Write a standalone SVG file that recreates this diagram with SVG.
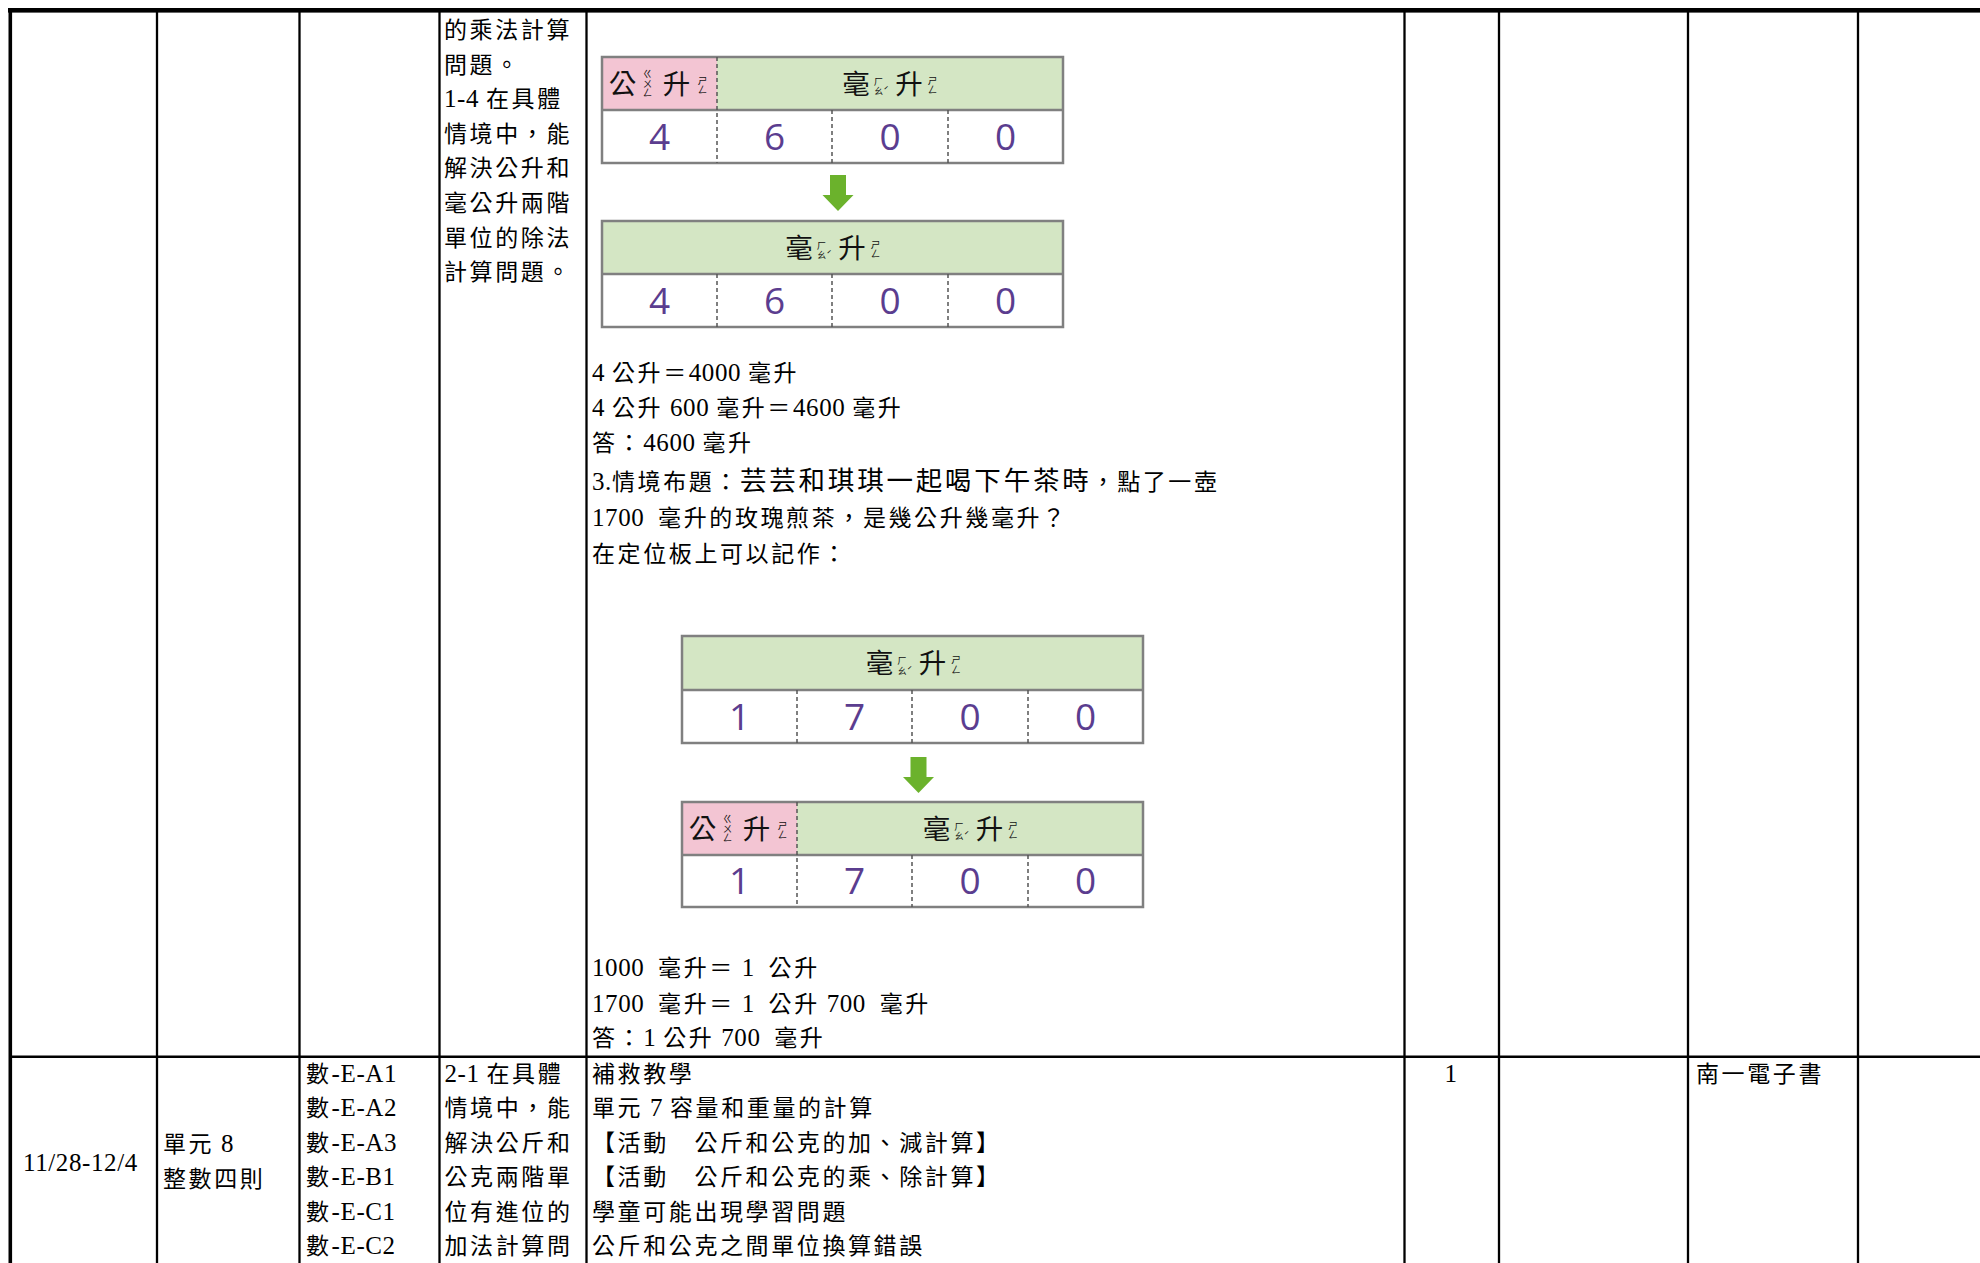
<svg xmlns="http://www.w3.org/2000/svg" width="1980" height="1263" viewBox="0 0 1980 1263">
<style>
.t{font-family:"Liberation Serif","Noto Sans CJK TC",serif;font-size:23px;letter-spacing:2.6px;fill:#000}
.l{font-size:25px;letter-spacing:0.6px}
.big{font-size:26.5px;letter-spacing:2.8px}
.h{font-family:"Noto Sans CJK TC",sans-serif;font-size:27.5px;text-anchor:middle;fill:#111}
.tone{font-size:9.5px}
.v{font-family:"Noto Sans CJK TC",sans-serif;font-size:9.5px;fill:#111;writing-mode:vertical-rl;text-anchor:middle}
.n{font-family:"Open Sans","Noto Sans",sans-serif;font-size:37px;fill:#5b3d8f;text-anchor:middle}
.grid{stroke:#000;stroke-width:2.3;fill:none}
.box{stroke:#808080;stroke-width:2.5;fill:none}
.dash{stroke:#555;stroke-width:1.5;stroke-dasharray:4 3;fill:none}
.pink{fill:#f3c5d3}
.green{fill:#d4e6c4}
.arrow{fill:#6bb22c}
</style>
<defs>
<path id="dnArrow" d="M-8,0 H8 V20 H15.5 L0,36 L-15.5,20 H-8 Z"/>
</defs>
<rect width="1980" height="1263" fill="#fff"/>

<g id="table-grid">
<rect x="8" y="8" width="1972" height="4.6" fill="#000"/>
<line class="grid" x1="10.3" y1="8" x2="10.3" y2="1263" style="stroke-width:3.6"/>
<line class="grid" x1="157" y1="8" x2="157" y2="1263"/>
<line class="grid" x1="299.5" y1="8" x2="299.5" y2="1263"/>
<line class="grid" x1="439.5" y1="8" x2="439.5" y2="1263"/>
<line class="grid" x1="586.5" y1="8" x2="586.5" y2="1263"/>
<line class="grid" x1="1404.5" y1="8" x2="1404.5" y2="1263"/>
<line class="grid" x1="1499" y1="8" x2="1499" y2="1263"/>
<line class="grid" x1="1688" y1="8" x2="1688" y2="1263"/>
<line class="grid" x1="1858" y1="8" x2="1858" y2="1263"/>
<line class="grid" x1="9" y1="1056.8" x2="1980" y2="1056.8" style="stroke-width:2.6"/>
</g>

<g id="row1-objectives">
<text class="t" x="444" y="38">的乘法計算</text>
<text class="t" x="444" y="72.6">問題。</text>
<text class="t" x="444" y="107.2"><tspan class="l">1-4 </tspan>在具體</text>
<text class="t" x="444" y="141.8">情境中，能</text>
<text class="t" x="444" y="176.4">解決公升和</text>
<text class="t" x="444" y="211">毫公升兩階</text>
<text class="t" x="444" y="245.6">單位的除法</text>
<text class="t" x="444" y="280.2">計算問題。</text>
</g>

<g id="board1">
<rect class="pink" x="602" y="57" width="115" height="53"/>
<rect class="green" x="717" y="57" width="346" height="53"/>
<rect class="box" x="602" y="57" width="461" height="106"/>
<line class="box" x1="602" y1="110" x2="1063" y2="110"/>
<line class="dash" x1="717" y1="57" x2="717" y2="163"/>
<line class="dash" x1="832" y1="110" x2="832" y2="163"/>
<line class="dash" x1="948" y1="110" x2="948" y2="163"/>
<text class="h" x="622.5" y="93.5">公<tspan x="676.5">升</tspan></text>
<text class="v" x="647.5" y="83">ㄍㄨㄥ</text>
<text class="v" x="702.5" y="85">ㄕㄥ</text>
<text class="h" x="856" y="93.5">毫<tspan class="tone" x="886" y="94">ˊ</tspan><tspan x="909" y="93.5">升</tspan></text>
<text class="v" x="878.5" y="86">ㄏㄠ</text>
<text class="v" x="932.5" y="85">ㄕㄥ</text>
<text class="n" x="659.5" y="150">4</text>
<text class="n" x="774.5" y="150">6</text>
<text class="n" x="890" y="150">0</text>
<text class="n" x="1005.5" y="150">0</text>
</g>

<g id="board2">
<rect class="green" x="602" y="221" width="461" height="53"/>
<rect class="box" x="602" y="221" width="461" height="106"/>
<line class="box" x1="602" y1="274" x2="1063" y2="274"/>
<line class="dash" x1="717" y1="274" x2="717" y2="327"/>
<line class="dash" x1="832" y1="274" x2="832" y2="327"/>
<line class="dash" x1="948" y1="274" x2="948" y2="327"/>
<text class="h" x="799" y="257.5">毫<tspan class="tone" x="829" y="258">ˊ</tspan><tspan x="852" y="257.5">升</tspan></text>
<text class="v" x="821.5" y="250">ㄏㄠ</text>
<text class="v" x="875.5" y="249">ㄕㄥ</text>
<text class="n" x="659.5" y="314">4</text>
<text class="n" x="774.5" y="314">6</text>
<text class="n" x="890" y="314">0</text>
<text class="n" x="1005.5" y="314">0</text>
</g>

<g id="row1-activity-text">
<text class="t" x="592" y="381"><tspan class="l">4 </tspan>公升＝<tspan class="l">4000 </tspan>毫升</text>
<text class="t" x="592" y="415.5"><tspan class="l">4 </tspan>公升<tspan class="l"> 600 </tspan>毫升＝<tspan class="l">4600 </tspan>毫升</text>
<text class="t" x="592" y="450.5">答：<tspan class="l">4600 </tspan>毫升</text>
<text class="t" x="592" y="489.5"><tspan class="l">3.</tspan>情境布題：<tspan class="big">芸芸和琪琪一起喝下午茶時</tspan>，點了一壺</text>
<text class="t" x="592" y="526"><tspan class="l">1700&#160;&#160;</tspan>毫升的玫瑰煎茶，是幾公升幾毫升？</text>
<text class="t" x="592" y="561.5">在定位板上可以記作：</text>
</g>

<g id="board3">
<rect class="green" x="682" y="636" width="461" height="54"/>
<rect class="box" x="682" y="636" width="461" height="107"/>
<line class="box" x1="682" y1="690" x2="1143" y2="690"/>
<line class="dash" x1="797" y1="690" x2="797" y2="743"/>
<line class="dash" x1="912" y1="690" x2="912" y2="743"/>
<line class="dash" x1="1028" y1="690" x2="1028" y2="743"/>
<text class="h" x="879.5" y="673">毫<tspan class="tone" x="909.5" y="673.5">ˊ</tspan><tspan x="932.5" y="673">升</tspan></text>
<text class="v" x="902" y="665.5">ㄏㄠ</text>
<text class="v" x="956" y="664.5">ㄕㄥ</text>
<text class="n" x="739.5" y="730">1</text>
<text class="n" x="854.5" y="730">7</text>
<text class="n" x="970" y="730">0</text>
<text class="n" x="1085.5" y="730">0</text>
</g>

<g id="board4">
<rect class="pink" x="682" y="802" width="115" height="53"/>
<rect class="green" x="797" y="802" width="346" height="53"/>
<rect class="box" x="682" y="802" width="461" height="105"/>
<line class="box" x1="682" y1="855" x2="1143" y2="855"/>
<line class="dash" x1="797" y1="802" x2="797" y2="907"/>
<line class="dash" x1="912" y1="855" x2="912" y2="907"/>
<line class="dash" x1="1028" y1="855" x2="1028" y2="907"/>
<text class="h" x="702.5" y="838.5">公<tspan x="756.5">升</tspan></text>
<text class="v" x="727.5" y="828">ㄍㄨㄥ</text>
<text class="v" x="782.5" y="830">ㄕㄥ</text>
<text class="h" x="936.5" y="838.5">毫<tspan class="tone" x="966.5" y="839">ˊ</tspan><tspan x="989.5" y="838.5">升</tspan></text>
<text class="v" x="959" y="831">ㄏㄠ</text>
<text class="v" x="1013" y="830">ㄕㄥ</text>
<text class="n" x="739.5" y="894">1</text>
<text class="n" x="854.5" y="894">7</text>
<text class="n" x="970" y="894">0</text>
<text class="n" x="1085.5" y="894">0</text>
</g>

<g id="connectors">
<use href="#dnArrow" class="arrow" x="838" y="175"/>
<use href="#dnArrow" class="arrow" x="918.5" y="757"/>
</g>

<g id="row1-answer">
<text class="t" x="592" y="975.5"><tspan class="l">1000&#160;&#160;</tspan>毫升＝<tspan class="l">&#160;1&#160;&#160;</tspan>公升</text>
<text class="t" x="592" y="1011.5"><tspan class="l">1700&#160;&#160;</tspan>毫升＝<tspan class="l">&#160;1&#160;&#160;</tspan>公升<tspan class="l"> 700&#160;&#160;</tspan>毫升</text>
<text class="t" x="592" y="1045.5">答：<tspan class="l">1 </tspan>公升<tspan class="l"> 700&#160;&#160;</tspan>毫升</text>
</g>

<g id="row2-week">
<text class="t" x="23" y="1170.5"><tspan class="l">11/28-12/4</tspan></text>
</g>
<g id="row2-unit">
<text class="t" x="163" y="1151.5">單元<tspan class="l"> 8</tspan></text>
<text class="t" x="163" y="1186.5">整數四則</text>
</g>
<g id="row2-competency">
<text class="t" x="306" y="1081.5">數<tspan class="l">-E-A1</tspan></text>
<text class="t" x="306" y="1116">數<tspan class="l">-E-A2</tspan></text>
<text class="t" x="306" y="1150.6">數<tspan class="l">-E-A3</tspan></text>
<text class="t" x="306" y="1185.2">數<tspan class="l">-E-B1</tspan></text>
<text class="t" x="306" y="1219.8">數<tspan class="l">-E-C1</tspan></text>
<text class="t" x="306" y="1254.4">數<tspan class="l">-E-C2</tspan></text>
</g>
<g id="row2-objectives">
<text class="t" x="444.5" y="1081.5"><tspan class="l">2-1 </tspan>在具體</text>
<text class="t" x="444.5" y="1116">情境中，能</text>
<text class="t" x="444.5" y="1150.6">解決公斤和</text>
<text class="t" x="444.5" y="1185.2">公克兩階單</text>
<text class="t" x="444.5" y="1219.8">位有進位的</text>
<text class="t" x="444.5" y="1254.4">加法計算問</text>
</g>
<g id="row2-activity">
<text class="t" x="592" y="1081.5">補救教學</text>
<text class="t" x="592" y="1116">單元<tspan class="l"> 7 </tspan>容量和重量的計算</text>
<text class="t" x="592" y="1150.6">【活動　公斤和公克的加、減計算】</text>
<text class="t" x="592" y="1185.2">【活動　公斤和公克的乘、除計算】</text>
<text class="t" x="592" y="1219.8">學童可能出現學習問題</text>
<text class="t" x="592" y="1254.4">公斤和公克之間單位換算錯誤</text>
</g>
<g id="row2-periods">
<text class="t" x="1451" y="1081.5" style="text-anchor:middle"><tspan class="l">1</tspan></text>
</g>
<g id="row2-resources">
<text class="t" x="1696" y="1081.5">南一電子書</text>
</g>
</svg>
